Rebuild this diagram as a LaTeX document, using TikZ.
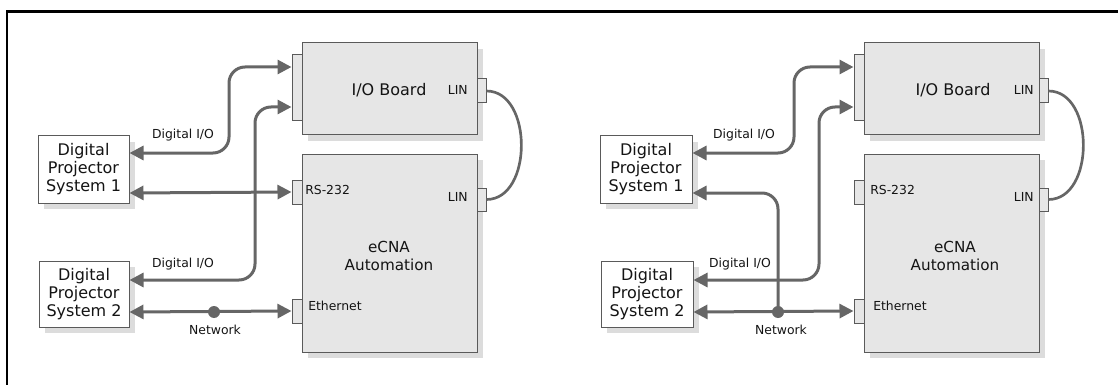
\documentclass[tikz,border=0pt]{standalone}
\usepackage{fontspec}
\setmainfont{DejaVu Sans}
\usetikzlibrary{arrows.meta,fit,shadows}
\definecolor{boxgray}{HTML}{E6E6E6}
\definecolor{edgegray}{HTML}{5A5A5A}
\definecolor{shadegray}{HTML}{DCDCDC}
\definecolor{wiregray}{HTML}{666666}
\definecolor{inkgray}{HTML}{141414}

\tikzset{
  unitbox/.style={draw=edgegray, fill=boxgray, line width=0.75pt, inner sep=0pt,
    drop shadow={shadow xshift=4.5pt, shadow yshift=-4.5pt, fill=shadegray, opacity=1}},
  projbox/.style={draw=edgegray, fill=white, line width=0.75pt, inner sep=0pt,
    drop shadow={shadow xshift=4.5pt, shadow yshift=-4.5pt, fill=shadegray, opacity=1}},
  port/.style={draw=edgegray, fill=boxgray, line width=0.75pt, inner sep=0pt},
  wire/.style={draw=wiregray, line width=2.25pt, rounded corners=12pt},
  tipA/.tip={Triangle[length=10.5pt,width=10.5pt]},
  biwire/.style={wire, tipA-tipA},
  oneway/.style={wire, -tipA},
  linkcurve/.style={draw=wiregray, line width=2pt},
  tag/.style={font=\fontsize{9.3}{11}\selectfont, inner sep=0pt, text=inkgray},
  hub/.style={circle, fill=wiregray, inner sep=0pt, minimum size=9pt},
  bigname/.style={font=\fontsize{12}{14}\selectfont, inner sep=0pt, text=inkgray},
  midname/.style={font=\fontsize{11.4}{13.5}\selectfont, inner sep=0pt, text=inkgray, align=center},
  projname/.style={font=\fontsize{12}{13.5}\selectfont, inner sep=0pt, text=inkgray, align=center},
}

\begin{document}
\begin{tikzpicture}[x=0.75pt,y=-0.75pt]
\useasboundingbox (0,0) rectangle (1118,385);

% outer frame (open towards the right and bottom)
\begin{scope}
  \clip (0,0) rectangle (1118,385);
  \draw[line width=1.9pt, black] (7,400) -- (7,11.5) -- (1130,11.5);
\end{scope}

% ---------------- left arrangement ----------------
\node[unitbox, fit={(302,43) (477,135)}] (a-io) {};
\node[unitbox, fit={(302,154) (477,352)}] (a-ecna) {};
\node[port, fit={(292,55) (302,121)}] (a-iop) {};
\node[port, fit={(477,79) (486,103)}] (a-iolin) {};
\node[port, fit={(292,180) (302,204)}] (a-rs) {};
\node[port, fit={(477,188) (486,211)}] (a-elin) {};
\node[port, fit={(292,299) (302,323)}] (a-eth) {};
\node[projbox, fit={(38,136) (129,203)}] (a-p1) {};
\node[projbox, fit={(39,261) (129,327)}] (a-p2) {};

\node[bigname] (a-iotxt) at (389,90) {I/O Board};
\node[midname] (a-ecnatxt) at (389,256) {eCNA\\Automation};
\node[projname] (a-p1txt) at (83.5,169) {Digital\\Projector\\System 1};
\node[projname] (a-p2txt) at (84,294) {Digital\\Projector\\System 2};

\node[tag, anchor=east] (a-lin1) at (468,90) {LIN};
\node[tag, anchor=east] (a-lin2) at (468,197) {LIN};
\node[tag, anchor=west] (a-rslbl) at (305,190) {RS-232};
\node[tag, anchor=west] (a-ethlbl) at (308,306) {Ethernet};
\node[tag] (a-dio1) at (183,135) {Digital I/O};
\node[tag] (a-dio2) at (183,264) {Digital I/O};
\node[tag] (a-net) at (215,330) {Network};

\draw[biwire] (a-p1.east |- 0,153) -- (229,153) -- (229,67) -- (a-iop.west |- 0,67);
\draw[biwire] (a-p2.east |- 0,280) -- (255,280) -- (255,107) -- (a-iop.west |- 0,107);
\draw[biwire] (a-p1.east |- 0,193) -- (a-rs.west);
\draw[biwire] (a-p2.east |- 0,312) -- (a-eth.west);
\node[hub] (a-hub) at (214,312) {};
\draw[linkcurve] (a-iolin.east) .. controls (533,91) and (533,199.5) .. (a-elin.east);

% ---------------- right arrangement ----------------
\begin{scope}[xshift=421.5pt]
\node[unitbox, fit={(302,43) (477,135)}] (b-io) {};
\node[unitbox, fit={(302,154) (477,352)}] (b-ecna) {};
\node[port, fit={(292,55) (302,121)}] (b-iop) {};
\node[port, fit={(477,79) (486,103)}] (b-iolin) {};
\node[port, fit={(292,180) (302,204)}] (b-rs) {};
\node[port, fit={(477,188) (486,211)}] (b-elin) {};
\node[port, fit={(292,299) (302,323)}] (b-eth) {};
\node[projbox, fit={(38,136) (130,203)}] (b-p1) {};
\node[projbox, fit={(39,261) (131,327)}] (b-p2) {};

\node[bigname] (b-iotxt) at (391,90) {I/O Board};
\node[midname] (b-ecnatxt) at (393,256) {eCNA\\Automation};
\node[projname] (b-p1txt) at (84,169) {Digital\\Projector\\System 1};
\node[projname] (b-p2txt) at (85,294) {Digital\\Projector\\System 2};

\node[tag, anchor=east] (b-lin1) at (472,90) {LIN};
\node[tag, anchor=east] (b-lin2) at (472,197) {LIN};
\node[tag, anchor=west] (b-rslbl) at (308,190) {RS-232};
\node[tag, anchor=west] (b-ethlbl) at (311,306) {Ethernet};
\node[tag] (b-dio1) at (182,135) {Digital I/O};
\node[tag] (b-dio2) at (178,264) {Digital I/O};
\node[tag] (b-net) at (219,330) {Network};

\coordinate (b-split) at (216,312);
\draw[biwire] (b-p1.east |- 0,153) -- (232,153) -- (232,67) -- (b-iop.west |- 0,67);
\draw[biwire] (b-p2.east |- 0,280) -- (257,280) -- (257,107) -- (b-iop.west |- 0,107);
\draw[biwire] (b-p2.east |- 0,312) -- (b-eth.west);
\draw[oneway] (b-split) -- (b-split |- 0,193) -- (b-p1.east |- 0,193);
\node[hub] (b-hub) at (b-split) {};
\draw[linkcurve] (b-iolin.east) .. controls (533,91) and (533,199.5) .. (b-elin.east);
\end{scope}
\end{tikzpicture}
\end{document}
